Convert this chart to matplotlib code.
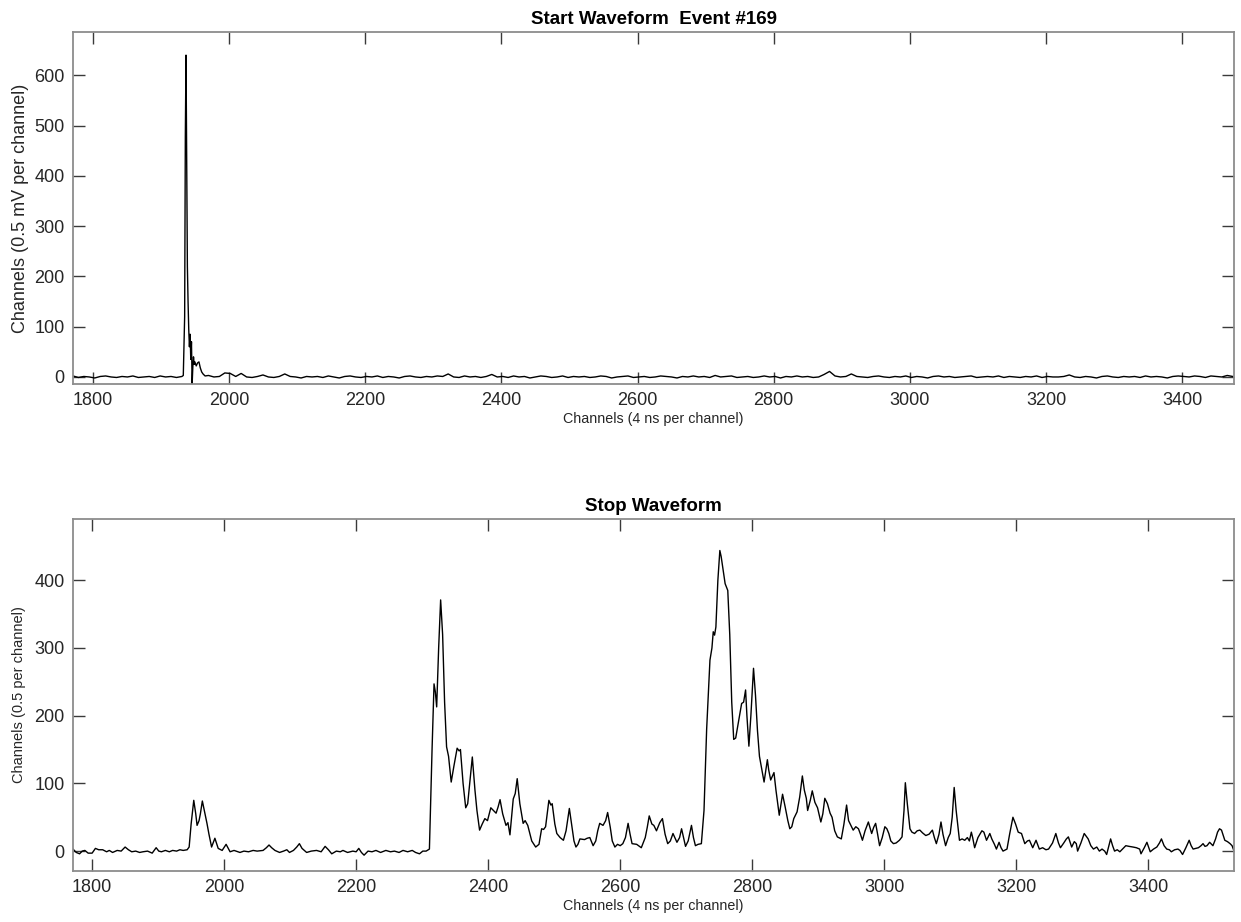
import matplotlib
matplotlib.use('Agg')
import matplotlib.pyplot as plt

plt.rcParams.update({'font.family': ['Liberation Sans', 'DejaVu Sans'], 'font.size': 13})

#
# Start waveform (channel, value) -- baseline sampled every 8 channels, peak written out
#
START_PRE_CH = list(range(1771, 1932, 8))
START_PRE_VAL = [2, -1, 1, 0, -2, 1, 2, 0, -1, 1, 0, 2, -1, 0, 1, -1, 2, 0, 1, -1, 1]

START_PEAK_CH = [1933, 1935, 1936, 1937, 1938, 1939, 1940, 1941, 1942, 1943, 1944, 1945,
                 1946, 1947, 1948, 1949, 1950, 1952, 1954, 1956, 1958, 1960, 1962, 1965]
START_PEAK_VAL = [3, 120, 480, 640, 420, 220, 150, 95, 60, 85, 35, 70,
                  -14, 20, 40, 25, 30, 22, 28, 30, 18, 10, 6, 2]

START_POST_CH = list(range(1970, 3475, 8))
START_POST_VAL = [3, 0, 1, 8, 7, 1, 7, 0, -1, 1,
                  4, 0, -1, 1, 6, 1, 0, -2, 1, 0,
                  1, -1, 2, 0, -2, 1, 2, 0, -1, 1,
                  0, 2, -1, 1, 0, -2, 1, 2, 0, -1,
                  1, 0, 2, 1, 6, 0, -1, 2, 0, 1,
                  -1, 1, 5, 0, 1, -1, 2, 0, 1, -2,
                  0, 2, 1, -1, 0, 2, -1, 1, 0, 1,
                  -1, 0, 2, 1, -2, 0, 1, 2, -1, 0,
                  1, -1, 0, 2, 1, 0, -2, 1, 0, 2,
                  0, 1, -1, 3, 0, 1, 2, -1, 0, 1,
                  -1, 0, 2, 0, 1, -2, 1, 0, 2, 0,
                  1, -1, 0, 5, 11, 2, 0, 1, 6, 1,
                  0, -1, 1, 2, 0, -1, 1, 0, 2, -1,
                  1, 0, -2, 1, 2, 0, 1, -1, 0, 1,
                  2, -1, 0, 1, 0, 2, -1, 1, 0, -1,
                  1, 0, 2, -1, 1, 0, 0, 1, 4, 0,
                  -1, 1, 0, -2, 1, 2, 0, -1, 1, 0,
                  1, -1, 2, 0, 1, 0, -2, 1, 2, 1,
                  0, 2, 1, -1, 2, 1, 0, 3, 1]

#
# Stop waveform (channel, value)
#
STOP_CH = [1771, 1776, 1781, 1785, 1789, 1794, 1800, 1805, 1810, 1816,
           1822, 1826, 1831, 1838, 1844, 1850, 1855, 1860, 1866, 1872,
           1877, 1884, 1891, 1897, 1901, 1905, 1911, 1917, 1922, 1928,
           1933, 1938, 1944, 1947, 1950, 1954, 1957, 1959, 1962, 1964,
           1967, 1970, 1974, 1977, 1981, 1986, 1991, 1997, 2003, 2009,
           2015, 2024, 2030, 2037, 2044, 2050, 2059, 2064, 2068, 2072,
           2077, 2084, 2090, 2095, 2099, 2105, 2110, 2114, 2118, 2125,
           2132, 2140, 2147, 2153, 2158, 2163, 2170, 2176, 2180, 2187,
           2195, 2200, 2204, 2208, 2212, 2218, 2224, 2230, 2237, 2245,
           2252, 2258, 2265, 2271, 2278, 2285, 2290, 2296, 2301, 2306,
           2311, 2315, 2318, 2320, 2322, 2325, 2328, 2331, 2334, 2337,
           2340, 2344, 2348, 2353, 2356, 2358, 2362, 2366, 2369, 2373,
           2376, 2380, 2383, 2387, 2391, 2395, 2399, 2404, 2408, 2412,
           2415, 2418, 2422, 2427, 2430, 2433, 2438, 2441, 2444, 2448,
           2453, 2456, 2460, 2466, 2472, 2477, 2481, 2484, 2487, 2492,
           2495, 2497, 2501, 2504, 2509, 2514, 2518, 2523, 2527, 2530,
           2533, 2536, 2539, 2546, 2550, 2554, 2559, 2563, 2566, 2569,
           2574, 2578, 2581, 2585, 2588, 2592, 2596, 2600, 2604, 2608,
           2612, 2615, 2618, 2625, 2632, 2638, 2641, 2644, 2648, 2651,
           2655, 2660, 2664, 2668, 2672, 2676, 2680, 2686, 2690, 2693,
           2696, 2699, 2703, 2708, 2711, 2714, 2718, 2723, 2727, 2731,
           2736, 2739, 2741, 2743, 2745, 2748, 2751, 2753, 2756, 2759,
           2761, 2763, 2766, 2769, 2772, 2775, 2780, 2784, 2787, 2790,
           2792, 2795, 2798, 2802, 2805, 2808, 2811, 2814, 2818, 2823,
           2825, 2828, 2833, 2836, 2841, 2846, 2850, 2854, 2857, 2860,
           2863, 2868, 2872, 2876, 2879, 2882, 2884, 2888, 2891, 2895,
           2899, 2904, 2907, 2910, 2914, 2918, 2921, 2925, 2929, 2935,
           2939, 2943, 2946, 2948, 2953, 2957, 2961, 2964, 2967, 2971,
           2976, 2981, 2984, 2987, 2990, 2993, 2997, 3001, 3004, 3007,
           3010, 3014, 3018, 3023, 3027, 3030, 3032, 3035, 3039, 3042,
           3046, 3050, 3054, 3058, 3063, 3068, 3073, 3076, 3079, 3083,
           3086, 3089, 3093, 3097, 3100, 3103, 3106, 3109, 3114, 3118,
           3122, 3126, 3129, 3132, 3134, 3137, 3142, 3148, 3151, 3155,
           3160, 3163, 3167, 3170, 3174, 3177, 3180, 3186, 3190, 3195,
           3199, 3203, 3208, 3210, 3213, 3217, 3220, 3225, 3230, 3235,
           3240, 3245, 3249, 3255, 3260, 3264, 3267, 3272, 3276, 3279,
           3282, 3284, 3288, 3291, 3293, 3298, 3303, 3306, 3309, 3313,
           3317, 3322, 3326, 3330, 3334, 3337, 3343, 3346, 3349, 3353,
           3357, 3362, 3366, 3371, 3377, 3382, 3387, 3389, 3394, 3398,
           3403, 3408, 3413, 3417, 3420, 3424, 3428, 3432, 3435, 3440,
           3445, 3448, 3452, 3457, 3462, 3465, 3468, 3472, 3476, 3480,
           3483, 3486, 3489, 3493, 3496, 3498, 3502, 3505, 3508, 3511,
           3514, 3516, 3520, 3524, 3527, 3530]
STOP_VAL = [3, -2, -4, 0, 1, -3, -3, 4, 2, 2,
            -1, 1, -2, 1, 0, 6, 2, -1, 0, -2,
            -1, 0, -3, 5, 0, -1, 1, -1, 1, 0,
            2, 1, 2, 6, 40, 75, 55, 38, 45, 55,
            74, 60, 41, 25, 6, 19, 4, 1, 10, -1,
            1, -2, 0, -1, 1, 0, 1, 5, 9, 5,
            1, -2, 0, 2, -2, 1, 6, 11, 4, -2,
            0, 1, -1, 7, 2, -4, 0, -1, 1, -2,
            0, -1, 4, -2, -6, 0, -1, 1, -2, 1,
            -1, 0, -2, 1, -1, 1, -2, -4, 0, 0,
            3, 150, 247, 235, 213, 300, 371, 320, 220, 154,
            140, 102, 125, 152, 148, 150, 100, 64, 70, 110,
            139, 90, 60, 31, 40, 48, 45, 64, 60, 56,
            65, 76, 55, 38, 42, 24, 77, 85, 107, 70,
            41, 45, 38, 15, 6, 10, 33, 32, 36, 75,
            68, 70, 40, 26, 20, 16, 30, 63, 35, 15,
            6, 10, 18, 17, 19, 20, 8, 15, 30, 41,
            38, 45, 57, 35, 15, 6, 10, 8, 11, 20,
            41, 25, 11, 10, 5, 20, 35, 52, 40, 38,
            30, 42, 48, 25, 11, 15, 26, 13, 20, 33,
            20, 7, 15, 38, 20, 8, 10, 11, 60, 180,
            282, 300, 324, 319, 331, 400, 444, 435, 415, 395,
            390, 385, 320, 220, 165, 167, 195, 218, 220, 238,
            200, 155, 200, 270, 230, 178, 140, 124, 102, 135,
            120, 105, 116, 90, 53, 84, 65, 45, 33, 36,
            48, 58, 80, 111, 90, 78, 60, 75, 89, 72,
            64, 43, 55, 78, 70, 56, 50, 30, 21, 18,
            40, 68, 45, 41, 31, 36, 33, 25, 16, 30,
            43, 26, 35, 41, 25, 8, 20, 36, 33, 26,
            15, 11, 12, 16, 21, 60, 101, 70, 33, 28,
            26, 30, 31, 27, 23, 25, 31, 20, 11, 25,
            43, 25, 8, 20, 26, 50, 94, 60, 16, 18,
            16, 20, 15, 28, 20, 5, 20, 30, 28, 16,
            26, 18, 10, 3, 13, 5, 0, 3, 25, 50,
            40, 28, 26, 20, 11, 15, 16, 5, 16, 3,
            5, 2, 3, 12, 26, 12, 5, 12, 18, 21,
            12, 6, 14, 11, 0, 12, 26, 22, 18, 8,
            3, 6, 0, 3, 0, -5, 18, 8, 0, 2,
            -1, 4, 8, 7, 6, 5, 3, -4, 5, 13,
            -1, 3, 6, 12, 18, 8, 3, 2, -1, 2,
            3, 1, -5, 5, 16, 8, 3, 4, 5, 8,
            11, 7, 8, 13, 10, 8, 18, 28, 33, 31,
            22, 16, 14, 11, 8, 0]

X_LABEL = "Channels (4 ns per channel)"
FRAME_COLOR = '#8c8c8c'
TEXT_COLOR = '#262626'


def style_axes(ax, xlim, ylim, yticks):
    ax.set_xlim(*xlim)
    ax.set_ylim(*ylim)
    ax.set_xticks(range(1800, 3401, 200))
    ax.set_yticks(yticks)
    for sp in ax.spines.values():
        sp.set_color(FRAME_COLOR)
        sp.set_linewidth(1.3)
    ax.tick_params(direction='in', length=8.5, width=1.0, color='#3a3a3a',
                   top=True, right=True, labelsize=13, labelcolor=TEXT_COLOR, pad=6)
    ax.set_xlabel(X_LABEL, fontsize=10.3, color=TEXT_COLOR, labelpad=2)


fig = plt.figure(figsize=(12.41, 9.22), dpi=100)
ax1 = fig.add_axes([0.0588, 0.5835, 0.9356, 0.3818])
ax2 = fig.add_axes([0.0588, 0.0556, 0.9356, 0.3811])

ax1.plot(START_PRE_CH + START_PEAK_CH + START_POST_CH,
         START_PRE_VAL + START_PEAK_VAL + START_POST_VAL, color='black', linewidth=1.0)
style_axes(ax1, (1771, 3476), (-14, 686), range(0, 601, 100))
ax1.set_ylabel("Channels (0.5 mV per channel)", fontsize=13, color=TEXT_COLOR, labelpad=4)
ax1.set_title("Start Waveform  Event #169", fontsize=13.5, fontweight='bold', pad=6)

ax2.plot(STOP_CH, STOP_VAL, color='black', linewidth=1.0)
style_axes(ax2, (1771, 3530), (-29, 490), range(0, 401, 100))
ax2.set_ylabel("Channels (0.5 per channel)", fontsize=10.5, color=TEXT_COLOR, labelpad=6)
ax2.set_title("Stop Waveform", fontsize=13.5, fontweight='bold', pad=6)

fig.savefig("out.png", dpi=100)
